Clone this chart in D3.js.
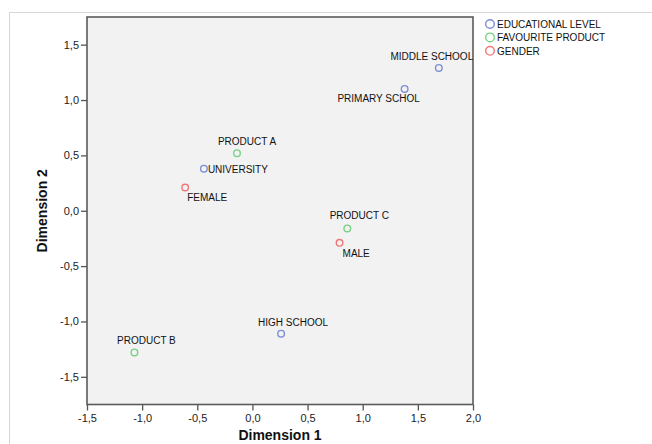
<!DOCTYPE html>
<html><head><meta charset="utf-8">
<script src="https://cdn.jsdelivr.net/npm/d3@7"></script>
<style>body{margin:0;background:#fff;}svg{display:block;font-family:Arial,"Liberation Sans",sans-serif;}</style>
</head><body>
<svg id="c" width="652" height="444"></svg>
<script>
const groups = ["EDUCATIONAL LEVEL", "FAVOURITE PRODUCT", "GENDER"];
const groupColors = ["#7b8ed6", "#78d283", "#f07676"];
const labels = ["MIDDLE SCHOOL", "PRIMARY SCHOL", "PRODUCT A", "UNIVERSITY", "FEMALE", "PRODUCT C", "MALE", "HIGH SCHOOL", "PRODUCT B"];
const pointGroup = [0, 0, 1, 0, 2, 1, 2, 0, 1];
const dim1 = [1.69, 1.38, -0.14, -0.44, -0.61, 0.86, 0.79, 0.26, -1.07];
const dim2 = [1.29, 1.10, 0.52, 0.38, 0.21, -0.16, -0.29, -1.11, -1.28];
const xTicks = [-1.5, -1.0, -0.5, 0.0, 0.5, 1.0, 1.5, 2.0];
const yTicks = [-1.5, -1.0, -0.5, 0.0, 0.5, 1.0, 1.5];
// label offsets (dx, dy from point, anchor) to mimic SPSS placement
const labelPos = [
  [-7, -8, "middle"], [-26, 13, "middle"], [10, -8, "middle"], [4, 4, "start"],
  [2, 13, "start"], [12, -9, "middle"], [3, 14, "start"], [12, -8, "middle"], [12, -8, "middle"]
];

const svg = d3.select("#c");
const L = 87, R = 473, T = 17, B = 404.5;
const x = d3.scaleLinear().domain([-1.5, 2.0]).range([L, R]);
const y = d3.scaleLinear().domain([-1.75, 1.75]).range([B, T]);
const fmt = d => d.toFixed(1).replace(".", ",");

// outer frame
svg.append("path").attr("d", "M9.5,444V12.5H652").attr("fill", "none").attr("stroke", "#d6d6d6").attr("stroke-width", 1);

// plot background
svg.append("rect").attr("x", L).attr("y", T).attr("width", R - L).attr("height", B - T).attr("fill", "#f2f2f2");

// axes
const xAxis = svg.append("g").attr("transform", `translate(0,${B})`)
  .call(d3.axisBottom(x).tickValues(xTicks).tickFormat(fmt).tickSize(6).tickPadding(4).tickSizeOuter(0));
const yAxis = svg.append("g").attr("transform", `translate(${L},0)`)
  .call(d3.axisLeft(y).tickValues(yTicks).tickFormat(fmt).tickSize(6).tickPadding(2).tickSizeOuter(0));
[xAxis, yAxis].forEach(g => {
  g.select(".domain").remove();
  g.selectAll("line").attr("stroke", "#555").attr("stroke-width", 1.3);
  g.selectAll("text").attr("font-size", 11).attr("fill", "#222").attr("font-family", "Arial, 'Liberation Sans', sans-serif");
});

// plot border
svg.append("rect").attr("x", L).attr("y", T).attr("width", R - L).attr("height", B - T)
  .attr("fill", "none").attr("stroke", "#5a5a5a").attr("stroke-width", 1.6);

// points
const data = labels.map((l, i) => ({l, g: pointGroup[i], x: dim1[i], y: dim2[i], p: labelPos[i]}));
svg.append("g").selectAll("circle").data(data).join("circle")
  .attr("cx", d => x(d.x)).attr("cy", d => y(d.y)).attr("r", 3.3)
  .attr("fill", "none").attr("stroke", d => groupColors[d.g]).attr("stroke-width", 1.4);
svg.append("g").selectAll("text").data(data).join("text")
  .attr("x", d => x(d.x) + d.p[0]).attr("y", d => y(d.y) + d.p[1])
  .attr("text-anchor", d => d.p[2]).attr("font-size", 10).attr("fill", "#111")
  .text(d => d.l);

// axis titles
svg.append("text").attr("x", (L + R) / 2).attr("y", 440).attr("text-anchor", "middle")
  .attr("font-size", 14).attr("font-weight", "bold").attr("fill", "#111").text("Dimension 1");
svg.append("text").attr("transform", `translate(47,${(T + B) / 2}) rotate(-90)`).attr("text-anchor", "middle")
  .attr("font-size", 14).attr("font-weight", "bold").attr("fill", "#111").text("Dimension 2");

// legend
const lg = svg.append("g");
groups.forEach((g, i) => {
  const cy = 24 + i * 13.4;
  lg.append("circle").attr("cx", 490).attr("cy", cy).attr("r", 4.3).attr("fill", "none")
    .attr("stroke", groupColors[i]).attr("stroke-width", 1.4);
  lg.append("text").attr("x", 497).attr("y", cy + 3.7).attr("font-size", 10).attr("fill", "#111").text(g);
});
</script>
</body></html>
